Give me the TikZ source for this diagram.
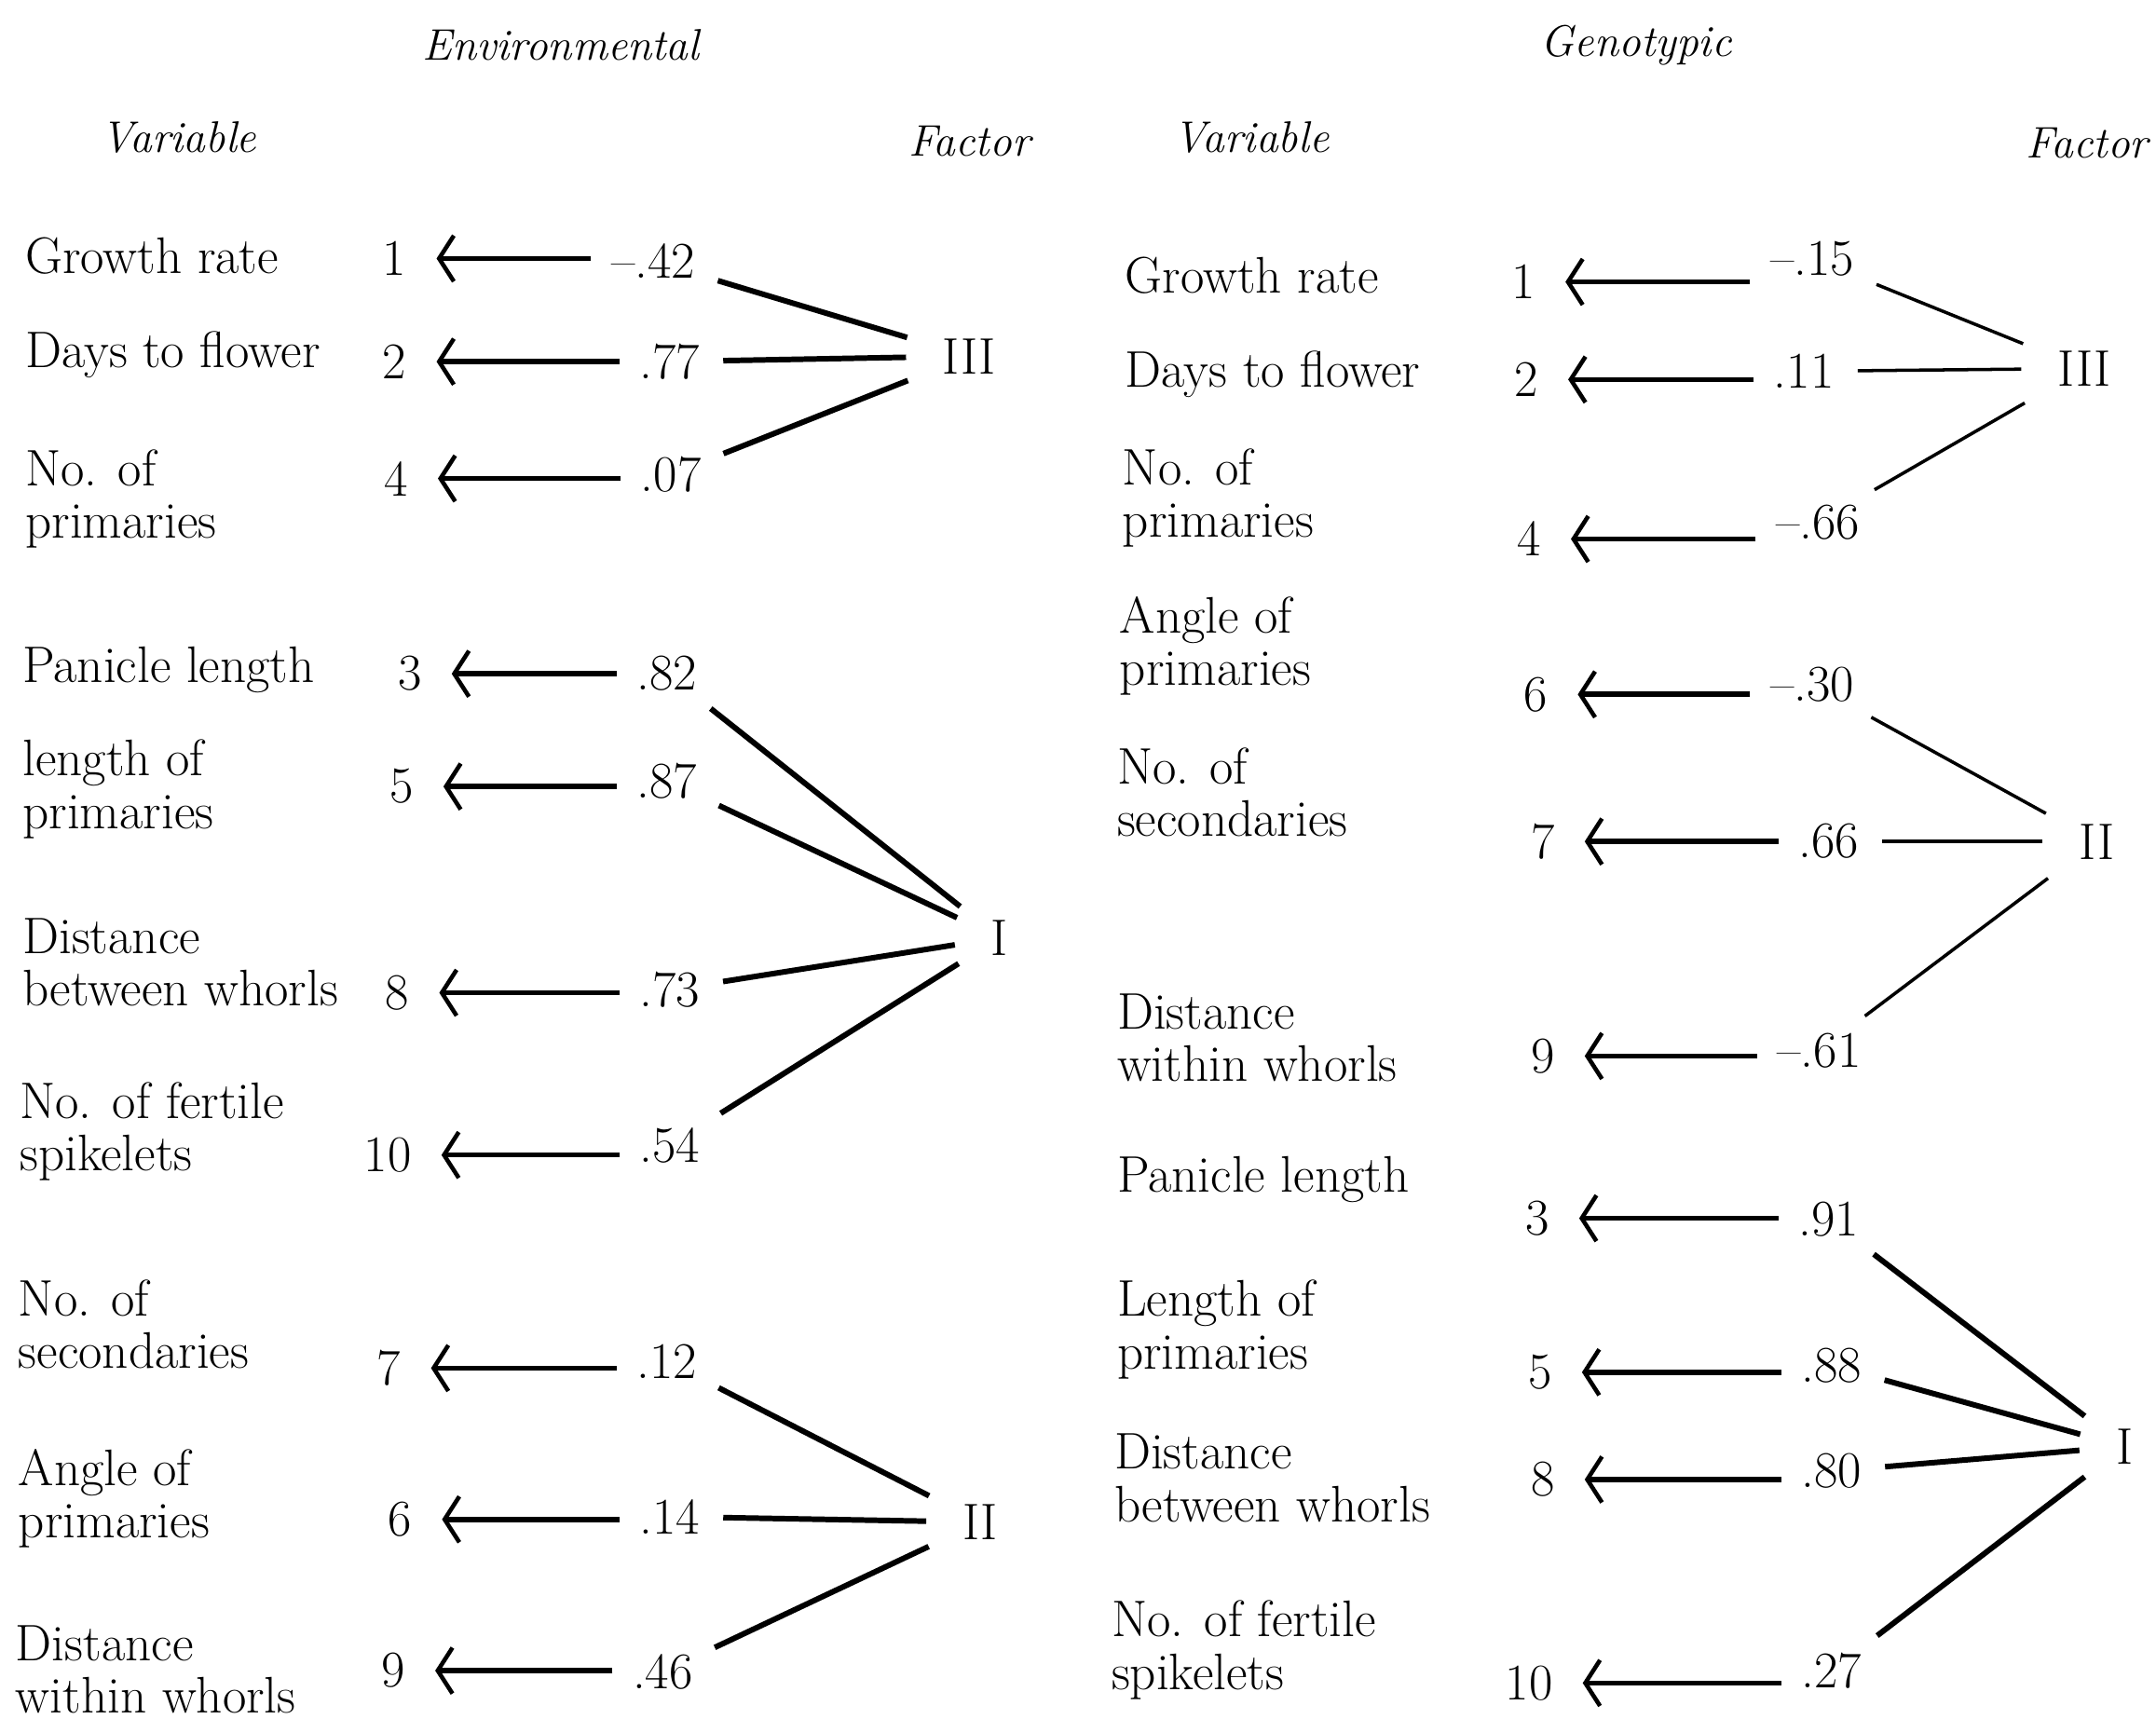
\documentclass[tikz,border=0pt]{standalone}
\usetikzlibrary{arrows.meta}

\newcommand{\bodyfont}{\fontsize{15.7}{16}\selectfont}
\newcommand{\headfont}{\fontsize{13.5}{15}\selectfont\itshape}

\begin{document}
\begin{tikzpicture}[
    x=0.014758cm, y=-0.014758cm,
    head/.style={font=\headfont},
    var/.style={anchor=west, align=left, inner sep=0pt, font=\bodyfont},
    num/.style={inner sep=2pt, font=\bodyfont},
    val/.style={inner sep=2pt, font=\bodyfont},
    fac/.style={inner sep=3pt, font=\bodyfont},
    arr/.style={-{Straight Barb[length=4.5pt, width=14pt, line width=1.3pt]}, line width=1.6pt, shorten <=4pt, shorten >=7pt},
    load/.style={line width=1.7pt, shorten <=5pt, shorten >=8pt},
    thin load/.style={load, line width=1pt}
]
    \useasboundingbox (0,0) rectangle (1568,1250);

    % headings
    \node[head] (envh) at (408,33) {Environmental};
    \node[head] (genh) at (1190,33) {Genotypic};
    \node[head] (lvarh) at (130,100) {Variable};
    \node[head] (lfach) at (705,103) {Factor};
    \node[head] (rvarh) at (910,100) {Variable};
    \node[head] (rfach) at (1518,104) {Factor};

    % environmental: variables
    \node[var] (lvar1) at (18,186) {Growth rate};
    \node[var] (lvar2) at (18,258) {Days to flower};
    \node[var] (lvar4) at (18,363) {No. of\\primaries};
    \node[var] (lvar3) at (16,487) {Panicle length};
    \node[var] (lvar5) at (16,574) {length of\\primaries};
    \node[var] (lvar8) at (16,700) {Distance\\between whorls};
    \node[var] (lvar10) at (14,823) {No. of fertile\\spikelets};
    \node[var] (lvar7) at (13,963) {No. of\\secondaries};
    \node[var] (lvar6) at (13,1090) {Angle of\\primaries};
    \node[var] (lvar9) at (11,1214) {Distance\\within whorls};

    % environmental: numbers and loadings
    \node[num] (lnum1) at (287,188) {1};
    \node[num] (lnum2) at (287,263) {2};
    \node[num] (lnum4) at (288,348) {4};
    \node[num] (lnum3) at (298,490) {3};
    \node[num] (lnum5) at (292,572) {5};
    \node[num] (lnum8) at (289,722) {8};
    \node[num] (lnum10) at (282,840) {10};
    \node[num] (lnum7) at (283,995) {7};
    \node[num] (lnum6) at (291,1105) {6};
    \node[num] (lnum9) at (286,1215) {9};

    \node[val] (lval1) at (475,190) {\textendash.42};
    \node[val] (lval2) at (487,263) {.77};
    \node[val] (lval4) at (488,345) {.07};
    \node[val] (lval3) at (485,490) {.82};
    \node[val] (lval5) at (485,568) {.87};
    \node[val] (lval8) at (487,720) {.73};
    \node[val] (lval10) at (487,833) {.54};
    \node[val] (lval7) at (485,990) {.12};
    \node[val] (lval6) at (487,1103) {.14};
    \node[val] (lval9) at (482,1216) {.46};

    \node[fac] (lfIII) at (705,259) {III};
    \node[fac] (lfI) at (727,682) {I};
    \node[fac] (lfII) at (713,1107) {II};

    % environmental: arrows
    \foreach \i in {1,2,4,3,5,8,10,7,6,9}
        \draw[arr] (lnum\i.east -| lval\i.west) -- (lnum\i.east);

    % environmental: links to factors
    \draw[load] (lval1) -- (lfIII);
    \draw[load] (lval2) -- (lfIII);
    \draw[load] (lval4) -- (lfIII);
    \draw[load] (lval3) -- (lfI);
    \draw[load] (lval5) -- (lfI);
    \draw[load] (lval8) -- (lfI);
    \draw[load] (lval10) -- (lfI);
    \draw[load] (lval7) -- (lfII);
    \draw[load] (lval6) -- (lfII);
    \draw[load] (lval9) -- (lfII);

    % genotypic: variables
    \node[var] (rvar1) at (818,200) {Growth rate};
    \node[var] (rvar2) at (818,272) {Days to flower};
    \node[var] (rvar4) at (816,362) {No. of\\primaries};
    \node[var] (rvar6) at (814,470) {Angle of\\primaries};
    \node[var] (rvar7) at (812,576) {No. of\\secondaries};
    \node[var] (rvar9) at (812,755) {Distance\\within whorls};
    \node[var] (rvar3) at (812,858) {Panicle length};
    \node[var] (rvar5) at (812,967) {Length of\\primaries};
    \node[var] (rvar8) at (810,1075) {Distance\\between whorls};
    \node[var] (rvar10) at (808,1200) {No. of fertile\\spikelets};

    % genotypic: numbers and loadings
    \node[num] (rnum1) at (1108,205) {1};
    \node[num] (rnum2) at (1110,276) {2};
    \node[num] (rnum4) at (1112,392) {4};
    \node[num] (rnum6) at (1117,505) {6};
    \node[num] (rnum7) at (1122,612) {7};
    \node[num] (rnum9) at (1122,768) {9};
    \node[num] (rnum3) at (1118,886) {3};
    \node[num] (rnum5) at (1120,998) {5};
    \node[num] (rnum8) at (1122,1076) {8};
    \node[num] (rnum10) at (1112,1224) {10};

    \node[val] (rval1) at (1318,188) {\textendash.15};
    \node[val] (rval2) at (1312,270) {.11};
    \node[val] (rval4) at (1322,380) {\textendash.66};
    \node[val] (rval6) at (1318,498) {\textendash.30};
    \node[val] (rval7) at (1330,612) {.66};
    \node[val] (rval9) at (1323,764) {\textendash.61};
    \node[val] (rval3) at (1330,887) {.91};
    \node[val] (rval5) at (1332,993) {.88};
    \node[val] (rval8) at (1332,1070) {.80};
    \node[val] (rval10) at (1332,1215) {.27};

    \node[fac] (rfIII) at (1516,268) {III};
    \node[fac] (rfII) at (1525,612) {II};
    \node[fac] (rfI) at (1545,1052) {I};

    % genotypic: arrows
    \foreach \i in {1,2,4,6,7,9,3,5,8,10}
        \draw[arr] (rnum\i.east -| rval\i.west) -- (rnum\i.east);

    % genotypic: links to factors
    \draw[thin load] (rval1) -- (rfIII);
    \draw[thin load] (rval2) -- (rfIII);
    \draw[thin load] (rval4) -- (rfIII);
    \draw[thin load] (rval6) -- (rfII);
    \draw[thin load] (rval7) -- (rfII);
    \draw[thin load] (rval9) -- (rfII);
    \draw[load] (rval3) -- (rfI);
    \draw[load] (rval5) -- (rfI);
    \draw[load] (rval8) -- (rfI);
    \draw[load] (rval10) -- (rfI);
\end{tikzpicture}
\end{document}
